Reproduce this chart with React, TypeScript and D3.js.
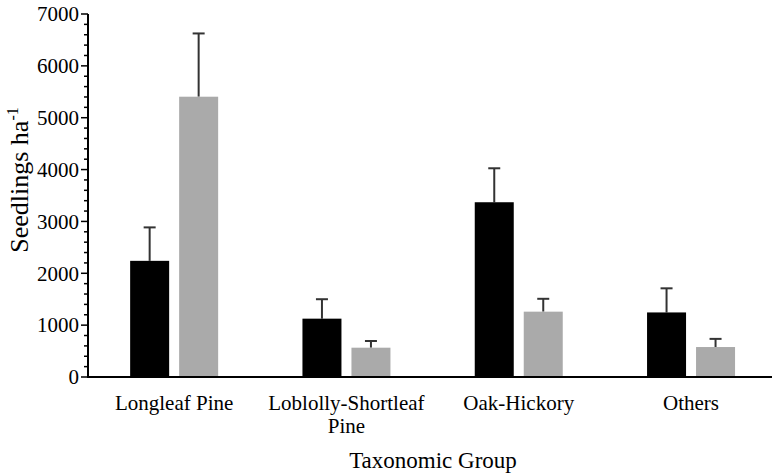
import React, { useEffect, useRef } from "react";
import * as d3 from "d3";

const categories = ["Longleaf Pine", "Loblolly-Shortleaf Pine", "Oak-Hickory", "Others"];
const seriesA = [2240, 1125, 3370, 1245];
const seriesAErr = [2885, 1500, 4025, 1710];
const seriesB = [5405, 565, 1260, 578];
const seriesBErr = [6625, 694, 1508, 735];
const yTicks = [0, 1000, 2000, 3000, 4000, 5000, 6000, 7000];

const W = 772;
const H = 474;

export default function App() {
  const ref = useRef<SVGSVGElement>(null);

  useEffect(() => {
    const svg = d3.select(ref.current);
    svg.selectAll("*").remove();

    const left = 88;
    const top = 14;
    const bottom = 377;
    const font = "Liberation Serif, Times New Roman, serif";

    const x = d3.scaleBand().domain(categories).range([left, left + 4 * 172.3]).paddingInner(0);
    const xs = d3.scaleBand().domain(["a", "b"]).range([0, 88]).paddingInner(0.204);
    const y = d3.scaleLinear().domain([0, 7000]).range([bottom, top]);

    const data = categories.map((c, i) => ({
      c,
      vals: [
        { k: "a", v: seriesA[i], e: seriesAErr[i], color: "#000000" },
        { k: "b", v: seriesB[i], e: seriesBErr[i], color: "#aaaaaa" },
      ],
    }));

    const g = svg
      .selectAll("g.grp")
      .data(data)
      .enter()
      .append("g")
      .attr("class", "grp")
      .attr("transform", (d) => "translate(" + (x(d.c)! + x.bandwidth() / 2 - 44) + ",0)");

    // error bars (upper only), drawn under the bars
    g.selectAll("line.err")
      .data((d) => d.vals)
      .enter()
      .append("line")
      .attr("x1", (d) => xs(d.k)! + xs.bandwidth() / 2)
      .attr("x2", (d) => xs(d.k)! + xs.bandwidth() / 2)
      .attr("y1", (d) => y(d.v))
      .attr("y2", (d) => y(d.e))
      .attr("stroke", "#333")
      .attr("stroke-width", 2);

    g.selectAll("line.cap")
      .data((d) => d.vals)
      .enter()
      .append("line")
      .attr("x1", (d) => xs(d.k)! + xs.bandwidth() / 2 - 6)
      .attr("x2", (d) => xs(d.k)! + xs.bandwidth() / 2 + 6)
      .attr("y1", (d) => y(d.e))
      .attr("y2", (d) => y(d.e))
      .attr("stroke", "#333")
      .attr("stroke-width", 2);

    g.selectAll("rect")
      .data((d) => d.vals)
      .enter()
      .append("rect")
      .attr("x", (d) => xs(d.k)!)
      .attr("y", (d) => y(d.v))
      .attr("width", xs.bandwidth())
      .attr("height", (d) => y(0) - y(d.v))
      .attr("fill", (d) => d.color);

    // y axis with minor ticks every 200
    const yAxis = svg.append("g").attr("transform", "translate(" + left + ",0)");
    yAxis
      .selectAll("line.minor")
      .data(d3.range(0, 7001, 200))
      .enter()
      .append("line")
      .attr("x1", (d) => (d % 1000 === 0 ? -7 : -4))
      .attr("x2", 0)
      .attr("y1", (d) => y(d))
      .attr("y2", (d) => y(d))
      .attr("stroke", "#000")
      .attr("stroke-width", 1.5);
    yAxis
      .append("line")
      .attr("x1", 0)
      .attr("x2", 0)
      .attr("y1", y(0) + 1)
      .attr("y2", y(7000))
      .attr("stroke", "#000")
      .attr("stroke-width", 2);
    yAxis
      .selectAll("text")
      .data(yTicks)
      .enter()
      .append("text")
      .attr("x", -9)
      .attr("y", (d) => y(d))
      .attr("dy", "0.35em")
      .attr("text-anchor", "end")
      .attr("font-family", font)
      .attr("font-size", 21)
      .text((d) => d);

    // x axis line
    svg
      .append("line")
      .attr("x1", left - 1)
      .attr("x2", W)
      .attr("y1", bottom)
      .attr("y2", bottom)
      .attr("stroke", "#000")
      .attr("stroke-width", 2);

    // category labels
    const labelLines: Record<string, string[]> = {
      "Loblolly-Shortleaf Pine": ["Loblolly-Shortleaf", "Pine"],
    };
    categories.forEach((c) => {
      const lines = labelLines[c] || [c];
      const t = svg
        .append("text")
        .attr("text-anchor", "middle")
        .attr("font-family", font)
        .attr("font-size", 21);
      lines.forEach((ln, i) => {
        t.append("tspan")
          .attr("x", x(c)! + x.bandwidth() / 2)
          .attr("y", 410 + i * 23)
          .text(ln);
      });
    });

    svg
      .append("text")
      .attr("x", 433)
      .attr("y", 468)
      .attr("text-anchor", "middle")
      .attr("font-family", font)
      .attr("font-size", 23)
      .text("Taxonomic Group");

    const yt = svg
      .append("text")
      .attr("transform", "translate(28," + 180 + ") rotate(-90)")
      .attr("text-anchor", "middle")
      .attr("font-family", font)
      .attr("font-size", 26);
    yt.append("tspan").text("Seedlings ha");
    yt.append("tspan").attr("dy", -10).attr("font-size", 16).text("-1");
  }, []);

  return (
    <svg
      ref={ref}
      width={W}
      height={H}
      style={{ position: "absolute", left: 0, top: 0, background: "#fff" }}
    />
  );
}
